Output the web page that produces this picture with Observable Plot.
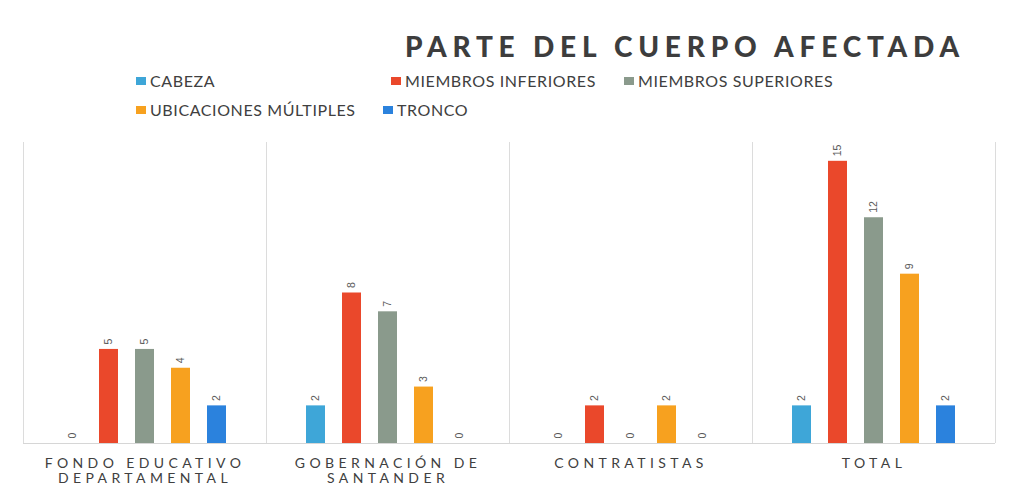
<!DOCTYPE html>
<html>
<head>
<meta charset="utf-8">
<script src="https://cdn.jsdelivr.net/npm/d3@7"></script>
<script src="https://cdn.jsdelivr.net/npm/@observablehq/plot@0.6"></script>
<style>
  body { margin: 0; background: #fff; }
  #wrap { position: relative; width: 1036px; height: 490px; overflow: hidden; background: #fff; }
  #head { position: relative; width: 1036px; height: 130px; }
  #title { position: absolute; left: 405px; top: 29px; font-family: Lato, sans-serif; font-weight: 900;
           font-size: 28px; line-height: 34px; letter-spacing: 5.8px; color: #3d3d3d; white-space: nowrap; }
  .leg { position: absolute; font-family: Lato, sans-serif; font-size: 16px; line-height: 18px; color: #404040;
         letter-spacing: 0.6px; white-space: nowrap; display: flex; align-items: center; }
  .leg i { display: inline-block; width: 10px; height: 8px; margin-right: 4px; }
  #chart svg g[font-family="Lato"] text { letter-spacing: 4.4px; }
</style>
</head>
<body>
<div id="wrap">
  <div id="head">
    <div id="title"></div>
  </div>
  <div id="chart"></div>
</div>
<script>
// ---- data ----
const groups = ["FONDO EDUCATIVO\nDEPARTAMENTAL", "GOBERNACIÓN DE\nSANTANDER", "CONTRATISTAS", "TOTAL"];
const series = ["CABEZA", "MIEMBROS INFERIORES", "MIEMBROS SUPERIORES", "UBICACIONES MÚLTIPLES", "TRONCO"];
const colors = ["#3ea6d8", "#ea482b", "#8a9a8c", "#f7a11f", "#2b82dd"];
const cabeza      = [0, 2, 0, 2];
const inferiores  = [5, 8, 2, 15];
const superiores  = [5, 7, 0, 12];
const multiples   = [4, 3, 2, 9];
const tronco      = [2, 0, 0, 2];
const titleText = "PARTE DEL CUERPO AFECTADA";

const valuesBySeries = [cabeza, inferiores, superiores, multiples, tronco];
const rows = [];
groups.forEach((g, gi) => series.forEach((s, si) => rows.push({group: g, series: s, value: valuesBySeries[si][gi]})));

// ---- title & legend ----
document.getElementById("title").textContent = titleText;
const legendLayout = [
  {left: 136, top: 72}, {left: 391, top: 72}, {left: 624, top: 72},
  {left: 136, top: 101}, {left: 383, top: 101}
];
const head = document.getElementById("head");
series.forEach((s, i) => {
  const d = document.createElement("div");
  d.className = "leg";
  d.style.left = legendLayout[i].left + "px";
  d.style.top = legendLayout[i].top + "px";
  const sw = document.createElement("i");
  sw.style.background = colors[i];
  d.appendChild(sw);
  d.appendChild(document.createTextNode(s));
  head.appendChild(d);
});

// ---- chart ----
const separators = (index, scales, values, dims) => {
  if (!dims) return null;
  const {marginLeft, marginRight, marginTop, marginBottom, width, height} = dims;
  const g = d3.create("svg:g");
  for (const x of [marginLeft, width - marginRight]) {
    g.append("line")
      .attr("x1", x + 0.5).attr("x2", x + 0.5)
      .attr("y1", marginTop).attr("y2", height - marginBottom)
      .attr("stroke", "#dcdcdc");
  }
  return g.node();
};

const chart = Plot.plot({
  width: 1036,
  height: 360,
  marginTop: 12,
  marginLeft: 22,
  marginRight: 41,
  marginBottom: 47,
  style: {background: "transparent"},
  fx: {domain: groups, padding: 0, axis: null},
  x: {domain: series, paddingInner: 0.47, paddingOuter: 1.1, axis: null},
  y: {domain: [0, 16], axis: null},
  color: {domain: series, range: colors},
  marks: [
    separators,
    Plot.ruleY([0], {stroke: "#d6d6d6"}),
    Plot.barY(rows, {fx: "group", x: "series", y: "value", fill: "series"}),
    Plot.text(rows, {
      fx: "group", x: "series", y: "value", text: d => String(d.value),
      rotate: -90, textAnchor: "start", dy: -5,
      fontSize: 10.5, fill: "#595959", fontFamily: "Liberation Sans"
    }),
    Plot.text(groups, {
      fx: d => d, text: d => d, frameAnchor: "bottom", lineAnchor: "top",
      dy: 14, lineHeight: 1.07, fontSize: 14, fill: "#404040", fontFamily: "Lato"
    })
  ]
});
document.getElementById("chart").appendChild(chart);
</script>
</body>
</html>
